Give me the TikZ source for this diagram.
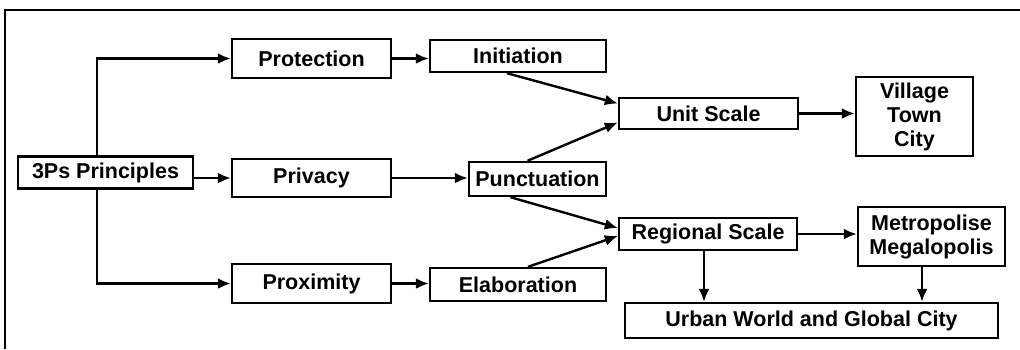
\documentclass[tikz,border=0pt]{standalone}
\usepackage{fontspec}
\setmainfont{Liberation Sans}
\usetikzlibrary{arrows.meta}

\begin{document}
\begin{tikzpicture}[x=1pt,y=-1pt,>={Latex[length=13pt,width=11pt]},line width=2.4pt,
  box/.style={draw,inner sep=0pt,align=center,font=\fontsize{21.5}{24}\selectfont\bfseries}]
  \useasboundingbox (0,0) rectangle (1020,349);
  \draw (5,349) |- (1020,10);
  \node[box,minimum width=175,minimum height=32] (pr) at (105.5,172.5) {3Ps Principles};
  \node[box,minimum width=159,minimum height=39] (prot) at (311.5,58.5) {Protection};
  \node[box,minimum width=159,minimum height=38] (priv) at (311.5,178) {Privacy};
  \node[box,minimum width=159,minimum height=39] (prox) at (311.5,283.5) {Proximity};
  \node[box,minimum width=176,minimum height=32] (init) at (518,56) {Initiation};
  \node[box,minimum width=137,minimum height=34] (punc) at (537.5,179) {Punctuation};
  \node[box,minimum width=176,minimum height=33] (elab) at (518,284.5) {Elaboration};
  \node[box,minimum width=179,minimum height=31] (unit) at (708.5,113.5) {Unit Scale};
  \node[box,minimum width=178,minimum height=32] (reg) at (708,234) {Regional Scale};
  \node[box,minimum width=117,minimum height=79] (vil) at (914.5,116.5) {Village\\Town\\City};
  \node[box,minimum width=147,minimum height=59] (metro) at (931.5,236.5) {Metropolise\\Megalopolis};
  \node[box,minimum width=373,minimum height=35] (urban) at (811.5,320.5) {Urban World and Global City};

  \draw[->] ([xshift=-8.5]pr.north) |- (prot.west);
  \draw[->] (pr.east |- priv.west) -- (priv.west);
  \draw[->] ([xshift=-8.5]pr.south) |- (prox.west);
  \draw[->] (prot.east) -- (prot.east -| init.west);
  \draw[->] (priv.east) -- (priv.east -| punc.west);
  \draw[->] (prox.east) -- (prox.east -| elab.west);
  \draw[->] ([xshift=-11]init.south) -- ([yshift=10]unit.west);
  \draw[->] ([xshift=-10]punc.north) -- ([yshift=-9]unit.west);
  \draw[->] ([xshift=-27]punc.south) -- ([yshift=6]reg.west);
  \draw[->] ([xshift=10]elab.north) -- ([yshift=-2]reg.west);
  \draw[->] (unit.east) -- (unit.east -| vil.west);
  \draw[->] (reg.east) -- (reg.east -| metro.west);
  \draw[->] ([xshift=-4]reg.south) -- ([xshift=-4]reg.south |- urban.north);
  \draw[->] ([xshift=-9.5]metro.south) -- ([xshift=-9.5]metro.south |- urban.north);
\end{tikzpicture}
\end{document}
